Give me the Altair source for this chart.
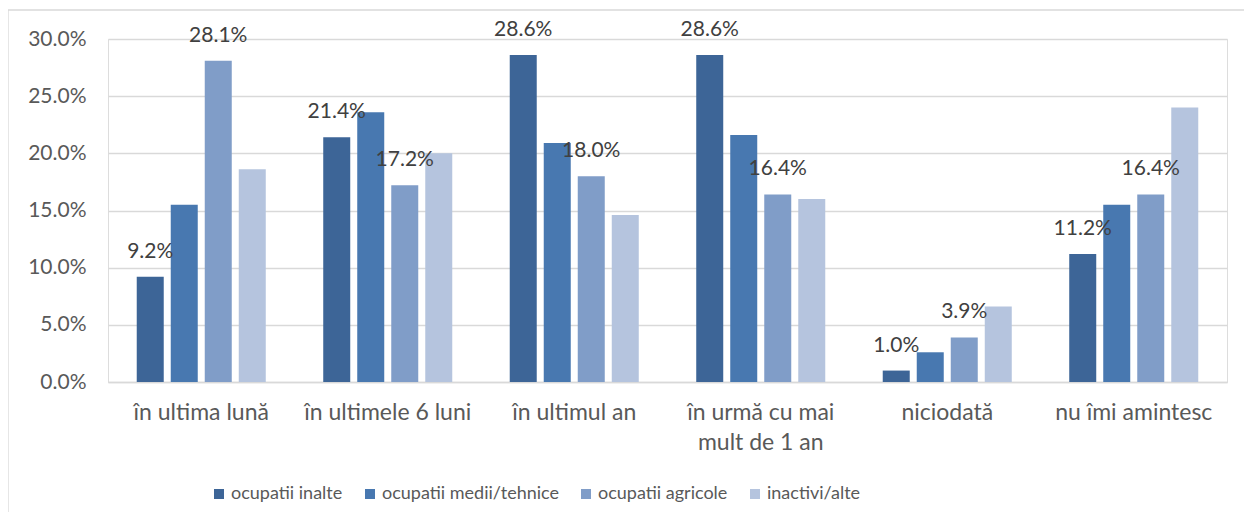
import altair as alt
import pandas as pd

categories = ["în ultima lună", "în ultimele 6 luni", "în ultimul an",
              "în urmă cu mai mult de 1 an", "niciodată", "nu îmi amintesc"]
series = ["ocupatii inalte", "ocupatii medii/tehnice", "ocupatii agricole", "inactivi/alte"]
inalte = [9.2, 21.4, 28.6, 28.6, 1.0, 11.2]
medii = [15.5, 23.6, 20.9, 21.6, 2.6, 15.5]
agricole = [28.1, 17.2, 18.0, 16.4, 3.9, 16.4]
inactivi = [18.6, 20.0, 14.6, 16.0, 6.6, 24.0]
labeled_series = ["ocupatii inalte", "ocupatii agricole"]
colors = ["#3D6597", "#4878B0", "#809DC8", "#B5C4DE"]
y_ticks = [0, 5, 10, 15, 20, 25, 30]

rows = []
for s, vals in zip(series, [inalte, medii, agricole, inactivi]):
    for c, v in zip(categories, vals):
        rows.append({"cat": c, "series": s, "value": v})
df = pd.DataFrame(rows)

W, H = 1119, 343
FONT = "Lato"
GRID = "#D9D9D9"

x_enc = alt.X(
    "cat:N", sort=categories,
    scale=alt.Scale(paddingInner=0, paddingOuter=0),
    axis=alt.Axis(
        title=None, labelAngle=0, labelFontSize=23, labelColor="#595959",
        labelFont=FONT, labelPadding=19, ticks=False, domain=True,
        domainColor=GRID, domainWidth=1.3, labelLimit=400, labelLineHeight=30,
        labelExpr="datum.value == 'în urmă cu mai mult de 1 an' ? ['în urmă cu mai', 'mult de 1 an'] : datum.value",
    ),
)
xo_enc = alt.XOffset("series:N", sort=series,
                     scale=alt.Scale(paddingInner=0.206, paddingOuter=0.845))
y_enc = alt.Y(
    "value:Q",
    scale=alt.Scale(domain=[0, 30], nice=False),
    axis=alt.Axis(
        title=None, values=y_ticks, labelFontSize=21, labelColor="#595959",
        labelFont=FONT, labelPadding=22, ticks=False, domain=False,
        gridColor=GRID, gridWidth=1.3,
        labelExpr="format(datum.value, '.1f') + '%'",
    ),
)

base = alt.Chart(df)

bars = base.mark_bar().encode(
    x=x_enc, xOffset=xo_enc, y=y_enc,
    color=alt.Color(
        "series:N", sort=series,
        scale=alt.Scale(domain=series, range=colors),
        legend=alt.Legend(
            title=None, orient="none", legendX=102, legendY=446,
            direction="horizontal", symbolType="square", symbolSize=100,
            symbolStrokeWidth=0, labelFontSize=18, labelFont=FONT,
            labelColor="#595959", columnPadding=18, labelOffset=3, padding=0,
            labelLimit=400,
        ),
    ),
)

labels = base.transform_filter(
    alt.FieldOneOfPredicate(field="series", oneOf=labeled_series)
).transform_calculate(
    label="format(datum.value, '.1f') + '%'"
).mark_text(
    dy=-19, baseline="alphabetic", fontSize=21, font=FONT, color="#404040"
).encode(
    x=x_enc, xOffset=xo_enc, y=y_enc, text="label:N"
)

frame_src = alt.Chart(pd.DataFrame({"a": [0]}))
top_edge = frame_src.mark_rule(color=GRID, strokeWidth=1.3).encode(
    x=alt.value(-100), x2=alt.value(W + 17), y=alt.value(-29), y2=alt.value(-29),
)
left_edge = frame_src.mark_rule(color=GRID, strokeWidth=1.3).encode(
    x=alt.value(-100), x2=alt.value(-100), y=alt.value(-29), y2=alt.value(H + 130),
)

chart = alt.layer(top_edge, left_edge, bars, labels).properties(
    width=W, height=H,
    padding={"left": 100, "top": 31, "right": 17, "bottom": 130},
    autosize=alt.AutoSizeParams(type="none"),
).configure_view(stroke=None).configure(font=FONT)

chart.save("out.html", embed_options={"renderer": "svg", "actions": False})
